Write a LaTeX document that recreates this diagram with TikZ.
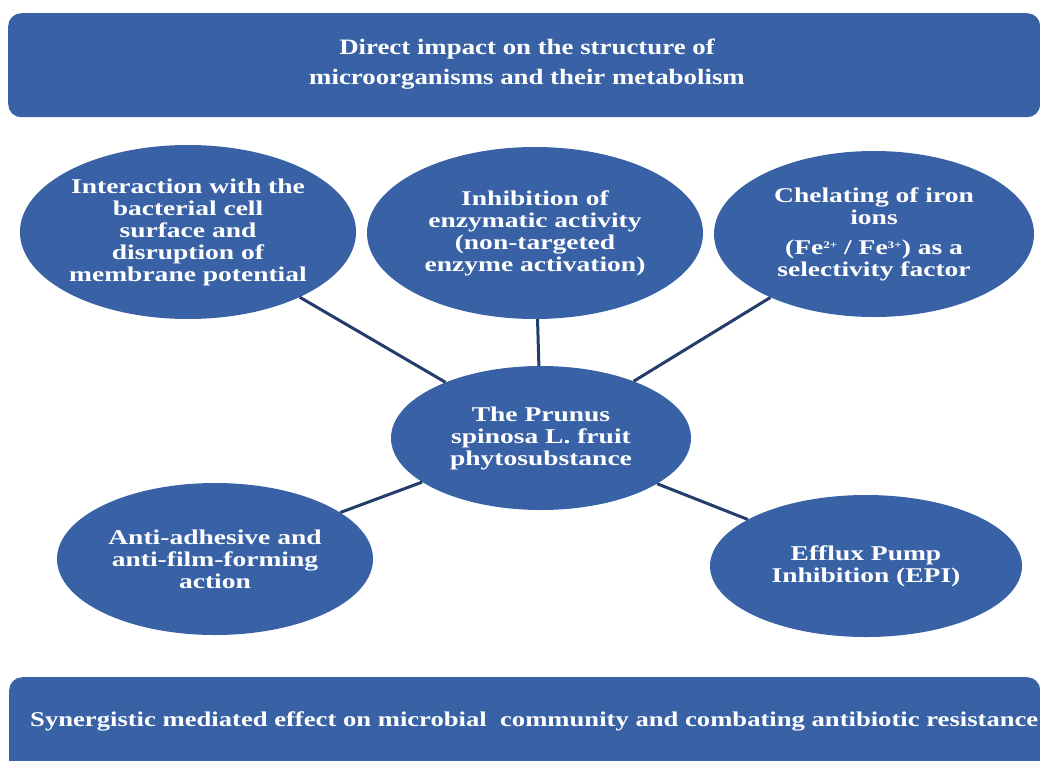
\documentclass[tikz,border=0pt]{standalone}
\usepackage{fontspec}
\setmainfont{Liberation Serif}[FakeStretch=1.22]
\newfontfamily\bubblefont{Liberation Serif}[FakeStretch=1.31]
\usetikzlibrary{shapes.geometric}
\definecolor{boxblue}{RGB}{57,98,166}
\definecolor{linenavy}{RGB}{36,62,108}
\newcommand{\ionsup}[1]{\raisebox{6pt}{\fontsize{10}{10}\selectfont #1}}
\begin{document}
\begin{tikzpicture}[x=1pt,y=-1pt,
  bubble/.style={ellipse, fill=boxblue, inner sep=0pt, text=white,
    font=\bubblefont\fontsize{21}{22}\selectfont\bfseries, align=center},
  banner/.style={fill=boxblue, rounded corners=13pt, inner sep=0pt},
  btext/.style={text=white, inner sep=0pt, align=center},
  link/.style={draw=linenavy, line width=3pt}]
\useasboundingbox (0,0) rectangle (1040,760);
\clip (0,0) rectangle (1040,760);
% banners
\node[banner, anchor=north west, minimum width=1032, minimum height=104] (topbar) at (8,13) {};
\node[banner, anchor=north west, minimum width=1031, minimum height=110] (botbar) at (9,677) {};
\node[btext, font=\fontsize{22}{30}\selectfont\bfseries] (toptext) at (527,64)
  {Direct impact on the structure of\\microorganisms and their metabolism};
\node[btext, anchor=west, font=\fontsize{21}{24}\selectfont\bfseries] (bottext) at (30,721)
  {\resizebox{1008pt}{\height}{Synergistic mediated effect on microbial\ \ community and combating antibiotic resistance}};
% ellipses
\node[bubble, minimum width=330, minimum height=174] (e1) at (188,232)
  {Interaction with the\\bacterial cell\\surface and\\disruption of\\membrane potential};
\node[bubble, minimum width=336, minimum height=172] (e2) at (535,233)
  {Inhibition of\\enzymatic activity\\(non-targeted\\enzyme activation)};
\node[bubble, minimum width=320, minimum height=166] (e3) at (874,234)
  {Chelating of iron\\ions\\[8pt](Fe\ionsup{2+} / Fe\ionsup{3+}) as a\\selectivity factor};
\node[bubble, minimum width=300, minimum height=144] (c) at (541,438)
  {The Prunus\\spinosa L. fruit\\phytosubstance};
\node[bubble, minimum width=316, minimum height=152] (e5) at (215,559)
  {Anti-adhesive and\\anti-film-forming\\action};
\node[bubble, minimum width=312, minimum height=142] (e6) at (866,566)
  {Efflux Pump\\Inhibition (EPI)};
% connectors
\draw[link] (e1) -- (c);
\draw[link] (e2) -- (c);
\draw[link] (e3) -- (c);
\draw[link] (e5) -- (c);
\draw[link] (e6) -- (c);
\end{tikzpicture}
\end{document}
